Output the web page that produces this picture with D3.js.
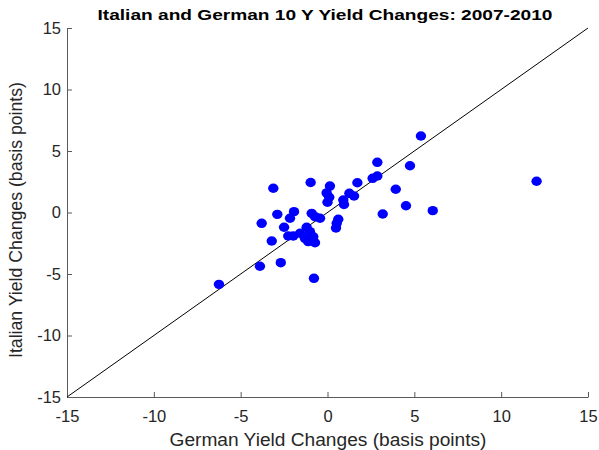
<!DOCTYPE html>
<html><head><meta charset="utf-8">
<script src="https://cdn.jsdelivr.net/npm/d3@7"></script>
<style>body{margin:0;background:#fff;} svg{display:block;font-family:"Liberation Sans",Arial,sans-serif;}</style>
</head><body><svg id="c" width="599" height="450"></svg>
<script>
const germanChanges = [5.38,2.87,4.75,2.60,2.87,1.72,3.93,0.14,-0.05,0.10,0.0,1.26,1.53,0.91,0.95,4.52,6.06,3.18,0.62,0.53,0.49,12.04,-0.97,-3.12,-1.93,-2.89,-3.79,-2.16,-2.50,-3.21,-0.91,-0.72,-0.43,-1.97,-1.58,-1.20,-1.01,-1.30,-0.82,-1.11,-0.72,-2.26,-3.89,-2.69,-6.25,-0.78];
const italianChanges = [6.22,4.08,3.80,2.78,2.97,2.42,1.89,2.15,1.59,1.24,0.83,1.56,1.34,1.02,0.65,0.55,0.15,-0.12,-0.55,-0.88,-1.26,2.54,2.44,1.97,0.07,-0.15,-0.88,-0.47,-1.20,-2.32,-0.07,-0.34,-0.47,-1.91,-1.69,-1.20,-1.56,-2.10,-1.97,-2.37,-2.46,-1.91,-4.37,-4.08,-5.84,-5.35];
const xTicks = [-15,-10,-5,0,5,10,15];
const yTicks = [-15,-10,-5,0,5,10,15];
const xDomain = [-15,15], yDomain = [-15,15];
const refLine = [-15,15];

const svg = d3.select("#c");
const L=67, R=588, T=28, B=397;
const x = d3.scaleLinear().domain(xDomain).range([L,R]);
const y = d3.scaleLinear().domain(yDomain).range([B,T]);
const axisColor = "#5a5a5a";
const fmt = d => String(d);

const xa = svg.append("g").attr("transform",`translate(0,${B})`)
  .call(d3.axisBottom(x).tickValues(xTicks).tickSize(-5).tickPadding(13).tickSizeOuter(0).tickFormat(fmt));
const ya = svg.append("g").attr("transform",`translate(${L},0)`)
  .call(d3.axisLeft(y).tickValues(yTicks).tickSize(-5).tickPadding(6).tickSizeOuter(0).tickFormat(fmt));
[xa,ya].forEach(a=>{
  a.select(".domain").attr("stroke",axisColor);
  a.selectAll(".tick line").attr("stroke",axisColor);
  a.selectAll(".tick text").attr("fill","#262626").style("font-size","16.5px").style("font-family","'Liberation Sans',Arial,sans-serif");
});
xa.selectAll(".tick text").attr("dy","0.71em");

svg.append("line")
  .attr("x1",x(refLine[0])).attr("y1",y(refLine[0]))
  .attr("x2",x(refLine[1])).attr("y2",y(refLine[1]))
  .attr("stroke","#000").attr("stroke-width",1);

svg.append("g").selectAll("ellipse").data(germanChanges.map((g,i)=>[g,italianChanges[i]]))
  .join("ellipse")
  .attr("cx",d=>x(d[0])).attr("cy",d=>y(d[1]))
  .attr("rx",5.2).attr("ry",4.7).attr("fill","#0000ff");

svg.append("text").attr("x",325).attr("y",20).attr("text-anchor","middle")
  .style("font-weight","bold").style("font-size","15px").attr("fill","#000")
  .attr("textLength",455).attr("lengthAdjust","spacingAndGlyphs")
  .text("Italian and German 10 Y Yield Changes: 2007-2010");
svg.append("text").attr("x",328).attr("y",446).attr("text-anchor","middle")
  .style("font-size","17.5px").attr("fill","#262626")
  .attr("textLength",317).attr("lengthAdjust","spacingAndGlyphs")
  .text("German Yield Changes (basis points)");
svg.append("text").attr("transform","translate(22,220) rotate(-90)").attr("text-anchor","middle")
  .style("font-size","17.5px").attr("fill","#262626")
  .attr("textLength",276).attr("lengthAdjust","spacingAndGlyphs")
  .text("Italian Yield Changes (basis points)");
</script></body></html>
